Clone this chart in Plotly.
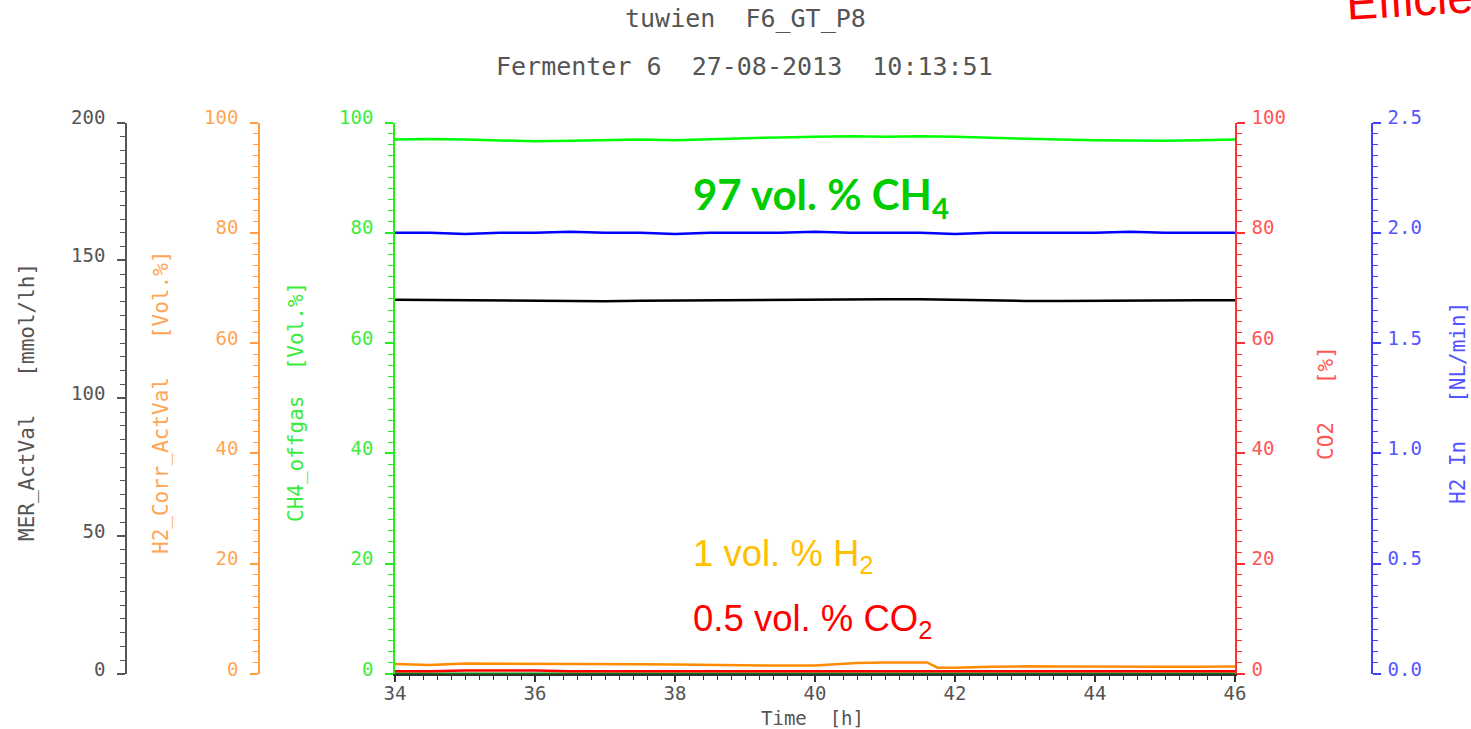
import plotly.graph_objects as go

# ---------------- data ----------------
time_h = [34.0, 34.5, 35.0, 35.5, 36.0, 36.5, 37.0, 37.5, 38.0, 38.5, 39.0, 39.5,
          40.0, 40.5, 41.0, 41.5, 42.0, 42.5, 43.0, 43.5, 44.0, 44.5, 45.0, 45.5, 46.0]

ch4_offgas = [96.9, 97.0, 96.9, 96.7, 96.6, 96.7, 96.8, 96.9, 96.8, 97.0, 97.2, 97.3,
              97.4, 97.5, 97.4, 97.5, 97.4, 97.2, 97.0, 96.9, 96.8, 96.7, 96.7, 96.8, 96.9]

h2_in = [2.00, 2.00, 1.995, 2.00, 2.00, 2.005, 2.00, 2.00, 1.995, 2.00, 2.00, 2.00,
         2.005, 2.00, 2.00, 2.00, 1.995, 2.00, 2.00, 2.00, 2.00, 2.005, 2.00, 2.00, 2.00]

mer_actval = [135.7, 135.6, 135.5, 135.4, 135.3, 135.3, 135.2, 135.4, 135.5, 135.6, 135.6, 135.7,
              135.8, 135.8, 135.9, 135.9, 135.7, 135.4, 135.3, 135.3, 135.4, 135.4, 135.5, 135.5, 135.5]

co2 = [0.50, 0.50, 0.65, 0.65, 0.65, 0.50, 0.50, 0.50, 0.50, 0.50, 0.50, 0.50,
       0.50, 0.55, 0.50, 0.55, 0.50, 0.50, 0.55, 0.60, 0.55, 0.60, 0.55, 0.50, 0.50]

offgas_base = [0.10, 0.10, 0.10, 0.10, 0.10, 0.10, 0.10, 0.10, 0.10, 0.10, 0.10, 0.10,
               0.10, 0.10, 0.10, 0.10, 0.10, 0.10, 0.10, 0.10, 0.10, 0.10, 0.10, 0.10, 0.10]

time_h2 = [34.0, 34.5, 35.0, 35.5, 36.0, 36.5, 37.0, 37.5, 38.0, 38.5, 39.0, 39.5, 40.0,
           40.3, 40.6, 41.0, 41.4, 41.6, 41.75, 42.0, 42.5, 43.0, 43.5, 44.0, 44.5, 45.0, 45.5, 46.0]
h2_corr = [1.80, 1.65, 1.90, 1.87, 1.87, 1.87, 1.90, 1.75, 1.70, 1.63, 1.52, 1.52, 1.52,
           1.80, 2.00, 2.10, 2.15, 2.10, 1.15, 1.15, 1.30, 1.40, 1.35, 1.30, 1.35, 1.30, 1.30, 1.35]

x_ticks = [34, 36, 38, 40, 42, 44, 46]

# ---------------- layout helpers ----------------
W, H = 1471, 729
FONT = "DejaVu Sans Mono"
TICK_SIZE = 19


def px(x):
    return x / W


def py(y):
    return 1 - y / H


def yax(line_col, text_col, rng, dtick, minor_dtick, standoff, **kw):
    d = dict(range=rng, dtick=dtick, tick0=0, showline=True, linecolor=line_col, linewidth=1.5,
             ticks="outside", ticklen=8, tickwidth=1.5, tickcolor=line_col,
             tickfont=dict(family=FONT, size=TICK_SIZE, color=text_col),
             showgrid=False, zeroline=False, fixedrange=True, automargin=False,
             minor=dict(dtick=minor_dtick, tick0=0, ticklen=5, tickwidth=1.2, tickcolor=line_col,
                        ticks="outside", showgrid=False),
             ticklabelshift=-5, ticklabelstandoff=standoff)
    d.update(kw)
    return d


fig = go.Figure()

fig.add_trace(go.Scatter(x=time_h, y=offgas_base, yaxis="y", mode="lines",
                         line=dict(color="#008000", width=2), name="aux"))
fig.add_trace(go.Scatter(x=time_h, y=co2, yaxis="y4", mode="lines",
                         line=dict(color="#FF0000", width=2.5), name="CO2"))
fig.add_trace(go.Scatter(x=time_h2, y=h2_corr, yaxis="y3", mode="lines",
                         line=dict(color="#FF8C00", width=2.5), name="H2_Corr_ActVal"))
fig.add_trace(go.Scatter(x=time_h, y=mer_actval, yaxis="y2", mode="lines",
                         line=dict(color="#000000", width=2.5), name="MER_ActVal"))
fig.add_trace(go.Scatter(x=time_h, y=h2_in, yaxis="y5", mode="lines",
                         line=dict(color="#0000FF", width=2.5), name="H2 In"))
fig.add_trace(go.Scatter(x=time_h, y=ch4_offgas, yaxis="y", mode="lines",
                         line=dict(color="#00FF00", width=2.5), name="CH4_offgas"))

dom_y = [py(674), py(122.5)]

fig.update_layout(
    template="none",
    width=W, height=H,
    margin=dict(l=0, r=0, t=0, b=0, pad=0, autoexpand=False),
    paper_bgcolor="white", plot_bgcolor="white",
    showlegend=False, hovermode=False,
    xaxis=dict(domain=[px(395), px(1235)], range=[34, 46], tickvals=x_ticks,
               showline=True, linecolor="#333333", linewidth=1.5,
               ticks="outside", ticklen=6, tickwidth=1.5, tickcolor="#333333",
               tickfont=dict(family=FONT, size=TICK_SIZE, color="#555555"),
               showgrid=False, zeroline=False, fixedrange=True, anchor="y", automargin=False,
               ticklabelstandoff=-5,
               minor=dict(dtick=0.2, tick0=34, ticklen=4, tickwidth=1.2, tickcolor="#333333",
                          ticks="outside", showgrid=False)),
    yaxis=yax("#22EE22", "#3DEB3D", [0, 100], 20, 2, 8, domain=dom_y, anchor="x", side="left"),
    yaxis2=yax("#555555", "#555555", [0, 200], 50, 5, 8, overlaying="y", anchor="free",
               position=px(126), side="left"),
    yaxis3=yax("#FFA040", "#FFA555", [0, 100], 20, 2, 8, overlaying="y", anchor="free",
               position=px(259), side="left"),
    yaxis4=yax("#FF3030", "#FF5555", [0, 100], 20, 2, 3, overlaying="y", anchor="x", side="right"),
    yaxis5=yax("#4040FF", "#5555FF", [0, 2.5], 0.5, 0.05, 3, overlaying="y", anchor="free",
               position=px(1372), side="right", tickformat=".1f"),
)

NB = "\u00a0"
ann = []


def add_text(text, x, y, size, color, angle=0, family=FONT, xanchor="center", yanchor="middle", bold=False):
    ann.append(dict(text=("<b>%s</b>" % text) if bold else text, x=px(x), y=py(y), xref="paper", yref="paper",
                    showarrow=False, textangle=angle, xanchor=xanchor, yanchor=yanchor,
                    font=dict(family=family, size=size, color=color)))


# titles
add_text("tuwien" + NB * 2 + "F6_GT_P8", 745, 18, 25, "#555555")
add_text("Fermenter" + NB + "6" + NB * 2 + "27-08-2013" + NB * 2 + "10:13:51", 744, 67, 25, "#555555")

# axis titles
add_text("Time" + NB * 2 + "[h]", 812, 718, 19, "#555555")
add_text("MER_ActVal" + NB * 3 + "[mmol/lh]", 27, 402, 21, "#555555", angle=-90)
add_text("H2_Corr_ActVal" + NB * 3 + "[Vol.%]", 161, 403, 21, "#FFA555", angle=-90)
add_text("CH4_offgas" + NB * 2 + "[Vol.%]", 296, 402, 21, "#3DEB3D", angle=-90)
add_text("CO2" + NB * 3 + "[%]", 1326, 403, 21, "#FF5555", angle=-90)
add_text("H2" + NB + "In" + NB * 3 + "[NL/min]", 1458, 403, 21, "#5555FF", angle=-90)

# in-plot labels
add_text("97 vol. % CH<sub>4</sub>", 691, 197, 42, "#00CC00", family="Lato", xanchor="left", bold=True)
add_text("1 vol. % H<sub>2</sub>", 691, 556, 36.5, "#FFC000", family="Liberation Sans", xanchor="left")
add_text("0.5 vol. % CO<sub>2</sub>", 691, 621, 36.5, "#FF0000", family="Liberation Sans", xanchor="left")

# red text cropped at the top right corner, as in the reference
add_text("Efficie", 1342, -1, 47, "#FF0000", angle=-3.5, family="Liberation Sans", xanchor="left")

fig.update_layout(annotations=ann)

# remove the default 8px body margin so the figure sits at the window's top-left corner
fig.write_html("out.html", config={"displayModeBar": False},
               post_script="document.body.style.margin='0';document.body.style.overflow='hidden';")
